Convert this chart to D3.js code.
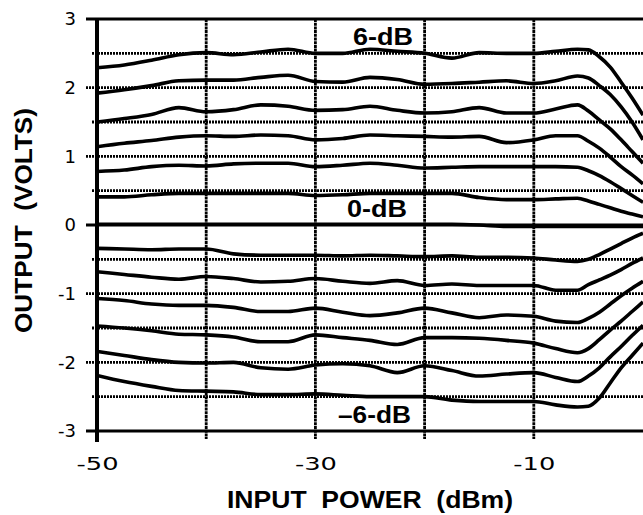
<!DOCTYPE html>
<html>
<head>
<meta charset="utf-8">
<script src="https://cdn.jsdelivr.net/npm/d3@7"></script>
<style>
  body { margin: 0; background: #fff; }
  svg { display: block; }
  text { fill: #000; }
</style>
</head>
<body>
<svg id="chart" width="643" height="515"></svg>
<script>
// sample points along the input power axis (dBm)
const inputPower = [-50, -47.5, -45, -42.5, -40, -37.5, -35, -32.5, -30, -27.5, -25, -22.5, -20,
  -17.5, -15, -12.5, -10, -8, -6, -5, -4, -3, -2, -1, 0]

// output (volts) for each gain setting, 6 dB down to -6 dB
const out6dB = [2.29, 2.33, 2.40, 2.48, 2.51, 2.48, 2.52, 2.56, 2.50, 2.50, 2.56, 2.53, 2.50, 2.43, 2.51, 2.50, 2.50, 2.53, 2.56, 2.55, 2.45, 2.30, 2.08, 1.85, 1.60]
const out5dB = [1.92, 1.97, 2.03, 2.10, 2.11, 2.11, 2.15, 2.18, 2.09, 2.08, 2.15, 2.12, 2.05, 2.06, 2.08, 2.10, 2.06, 2.10, 2.17, 2.14, 2.03, 1.90, 1.72, 1.50, 1.24]
const out4dB = [1.50, 1.55, 1.61, 1.71, 1.65, 1.68, 1.75, 1.73, 1.67, 1.68, 1.73, 1.67, 1.63, 1.65, 1.71, 1.63, 1.63, 1.69, 1.75, 1.66, 1.53, 1.40, 1.24, 1.07, 0.90]
const out3dB = [1.14, 1.19, 1.23, 1.28, 1.30, 1.29, 1.31, 1.30, 1.24, 1.26, 1.31, 1.30, 1.29, 1.28, 1.29, 1.20, 1.24, 1.30, 1.30, 1.22, 1.12, 0.99, 0.85, 0.73, 0.60]
const out2dB = [0.78, 0.80, 0.85, 0.87, 0.86, 0.89, 0.90, 0.90, 0.85, 0.87, 0.90, 0.87, 0.83, 0.84, 0.85, 0.85, 0.85, 0.85, 0.84, 0.79, 0.72, 0.63, 0.53, 0.43, 0.33]
const out1dB = [0.41, 0.41, 0.44, 0.46, 0.46, 0.46, 0.46, 0.46, 0.43, 0.44, 0.46, 0.46, 0.46, 0.46, 0.40, 0.37, 0.37, 0.38, 0.39, 0.35, 0.30, 0.25, 0.20, 0.16, 0.12]
const out0dB = [0.01, 0.01, 0.01, 0.01, 0.01, 0.01, 0.01, 0.01, 0.01, 0.01, 0.01, 0.01, 0.01, 0.01, 0.00, -0.02, -0.02, -0.02, -0.02, -0.02, -0.02, -0.02, -0.02, -0.02, -0.02]
const outM1dB = [-0.34, -0.35, -0.36, -0.35, -0.35, -0.42, -0.44, -0.44, -0.44, -0.45, -0.44, -0.45, -0.46, -0.45, -0.47, -0.47, -0.48, -0.51, -0.53, -0.50, -0.43, -0.35, -0.27, -0.19, -0.12]
const outM2dB = [-0.68, -0.72, -0.76, -0.79, -0.75, -0.78, -0.83, -0.82, -0.78, -0.82, -0.85, -0.81, -0.88, -0.86, -0.88, -0.88, -0.88, -0.95, -0.95, -0.87, -0.80, -0.73, -0.65, -0.56, -0.48]
const outM3dB = [-1.07, -1.10, -1.15, -1.17, -1.17, -1.20, -1.26, -1.26, -1.21, -1.27, -1.32, -1.28, -1.21, -1.28, -1.35, -1.31, -1.33, -1.40, -1.42, -1.36, -1.27, -1.15, -1.03, -0.92, -0.82]
const outM4dB = [-1.47, -1.50, -1.54, -1.59, -1.60, -1.63, -1.70, -1.70, -1.60, -1.64, -1.68, -1.74, -1.64, -1.64, -1.65, -1.68, -1.72, -1.80, -1.86, -1.80, -1.67, -1.53, -1.40, -1.26, -1.12]
const outM5dB = [-1.84, -1.90, -1.96, -2.00, -2.01, -2.00, -2.08, -2.10, -2.04, -2.02, -2.05, -2.15, -2.05, -2.12, -2.20, -2.17, -2.15, -2.22, -2.28, -2.20, -2.08, -1.92, -1.77, -1.61, -1.46]
const outM6dB = [-2.19, -2.28, -2.35, -2.41, -2.42, -2.43, -2.47, -2.47, -2.46, -2.48, -2.50, -2.50, -2.50, -2.55, -2.57, -2.57, -2.57, -2.62, -2.65, -2.64, -2.52, -2.30, -2.08, -1.90, -1.72]

const yTicks = [-3, -2, -1, 0, 1, 2, 3]
const yGridLines = [-2.5, -2, -1.5, -1, -0.5, 0.5, 1, 1.5, 2, 2.5]
const xTicks = [-50, -40, -30, -20, -10]
const xTickLabels = ['-50', '-30', '-10']
const gainLabels = ['6-dB', '0-dB', '\u20136-dB']
const gainLabelLevels = [2.62, 0.12, -2.88]

const series = [out6dB, out5dB, out4dB, out3dB, out2dB, out1dB, out0dB,
  outM1dB, outM2dB, outM3dB, outM4dB, outM5dB, outM6dB]

const svg = d3.select('#chart')
const x = d3.scaleLinear().domain([-50, 0]).range([97, 643])
const y = d3.scaleLinear().domain([-3, 3]).range([431, 19])

svg.append('rect').attr('width', 643).attr('height', 515).attr('fill', '#fff')

svg.append('clipPath').attr('id', 'plot-clip')
  .append('rect')
  .attr('x', x(-50)).attr('y', y(3) - 3)
  .attr('width', x(0) - x(-50)).attr('height', y(-3) - y(3) + 6)

// dotted horizontal grid, integer lines get a longer tick to the left
svg.append('g').attr('class', 'h-grid')
  .selectAll('line')
  .data(yGridLines)
  .join('line')
  .attr('x1', d => (Number.isInteger(d) ? 86 : 92))
  .attr('x2', 643)
  .attr('y1', d => y(d))
  .attr('y2', d => y(d))
  .attr('stroke', '#000')
  .attr('stroke-width', 2.8)
  .attr('stroke-dasharray', '2,1')

// vertical grid, running past the bottom as ticks
svg.append('g').attr('class', 'v-grid')
  .selectAll('line')
  .data(xTicks.slice(1))
  .join('line')
  .attr('x1', d => x(d))
  .attr('x2', d => x(d))
  .attr('y1', y(3))
  .attr('y2', y(-3) + 8)
  .attr('stroke', '#000')
  .attr('stroke-width', 2.8)
  .attr('stroke-dasharray', '3,0.7')

// solid frame: top, bottom, zero line
svg.append('g').attr('class', 'frame')
  .selectAll('line')
  .data([3, 0, -3])
  .join('line')
  .attr('x1', 86)
  .attr('x2', 643)
  .attr('y1', d => y(d))
  .attr('y2', d => y(d))
  .attr('stroke', '#000')
  .attr('stroke-width', 3.2)

// left axis with tick labels
const yAxis = d3.axisLeft(y).tickValues(yTicks).tickSize(0).tickPadding(21)
  .tickFormat(d => String(d))
svg.append('g')
  .attr('transform', `translate(${x(-50)},0)`)
  .call(yAxis)
  .call(g => g.select('.domain').remove())
  .selectAll('text')
  .style('font-family', 'DejaVu Sans, sans-serif')
  .style('font-size', '18px')

svg.append('line')
  .attr('x1', x(-50)).attr('x2', x(-50))
  .attr('y1', y(3) - 1).attr('y2', y(-3) + 11)
  .attr('stroke', '#000').attr('stroke-width', 4)

// bottom tick labels
const xAxis = d3.axisBottom(x).tickValues(xTickLabels.map(Number)).tickSize(0).tickPadding(0)
  .tickFormat(d => String(d))
svg.append('g')
  .attr('transform', `translate(0,${y(-3)})`)
  .call(xAxis)
  .call(g => g.select('.domain').remove())
  .selectAll('text')
  .attr('dy', null)
  .attr('y', 39)
  .style('font-family', 'DejaVu Sans, sans-serif')
  .style('font-size', '18px')
  .attr('textLength', 42)
  .attr('lengthAdjust', 'spacingAndGlyphs')

// output curves
const line = d3.line()
  .x((d, i) => x(inputPower[i]))
  .y(d => y(d))
  .curve(d3.curveMonotoneX)

svg.append('g').attr('class', 'curves')
  .attr('clip-path', 'url(#plot-clip)')
  .selectAll('path')
  .data(series)
  .join('path')
  .attr('d', line)
  .attr('fill', 'none')
  .attr('stroke', '#000')
  .attr('stroke-width', 3.6)
  .attr('stroke-linejoin', 'round')

// gain labels
const labelX = [353, 347, 338]
const labelW = [60, 60, 73]
svg.append('g').attr('class', 'gain-labels')
  .selectAll('text')
  .data(gainLabels)
  .join('text')
  .attr('x', (d, i) => labelX[i])
  .attr('y', (d, i) => y(gainLabelLevels[i]))
  .attr('font-family', 'Liberation Sans, Arial, sans-serif')
  .attr('font-weight', 'bold')
  .attr('font-size', 23)
  .attr('textLength', (d, i) => labelW[i])
  .attr('lengthAdjust', 'spacingAndGlyphs')
  .text(d => d)

// axis titles
svg.append('text')
  .attr('x', 227)
  .attr('y', 508)
  .attr('font-family', 'Liberation Sans, Arial, sans-serif')
  .attr('font-weight', 'bold')
  .attr('font-size', 23)
  .attr('textLength', 286)
  .attr('lengthAdjust', 'spacingAndGlyphs')
  .attr('xml:space', 'preserve')
  .text('INPUT  POWER  (dBm)')

svg.append('text')
  .attr('transform', 'translate(32,333) rotate(-90)')
  .attr('font-family', 'Liberation Sans, Arial, sans-serif')
  .attr('font-weight', 'bold')
  .attr('font-size', 24)
  .attr('textLength', 225)
  .attr('lengthAdjust', 'spacingAndGlyphs')
  .attr('xml:space', 'preserve')
  .text('OUTPUT  (VOLTS)')
</script>
</body>
</html>
